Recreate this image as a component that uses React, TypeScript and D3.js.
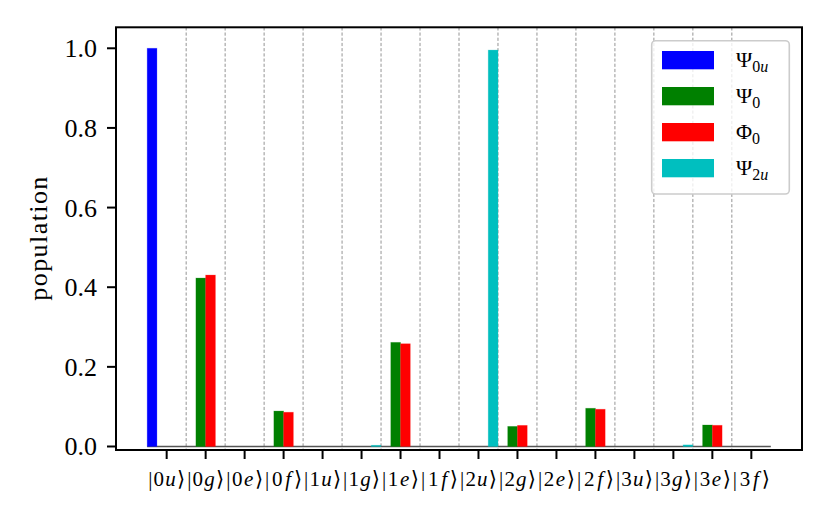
import React from "react";
import * as d3 from "d3";

const categories = ["0u", "0g", "0e", "0f", "1u", "1g", "1e", "1f", "2u", "2g", "2e", "2f", "3u", "3g", "3e", "3f"];
const psi0u = [1.0, 0, 0, 0, 0, 0, 0, 0, 0, 0, 0, 0, 0, 0, 0, 0];
const psi0 = [0, 0.423, 0, 0.089, 0, 0, 0.2615, 0, 0, 0.0505, 0, 0.096, 0, 0, 0.054, 0];
const phi0 = [0, 0.4305, 0, 0.086, 0, 0, 0.258, 0, 0, 0.053, 0, 0.0935, 0, 0, 0.0532, 0];
const psi2u = [0, 0, 0, 0, 0, 0.003, 0, 0, 0.9955, 0, 0, 0, 0, 0.004, 0, 0];
const yTicks = [0, 0.2, 0.4, 0.6, 0.8, 1.0];

const seriesList = [
  { sym: "Ψ", sub: "0u", values: psi0u, color: "#0000ff" },
  { sym: "Ψ", sub: "0", values: psi0, color: "#008000" },
  { sym: "Φ", sub: "0", values: phi0, color: "#ff0000" },
  { sym: "Ψ", sub: "2u", values: psi2u, color: "#00bfbf" },
];

const W = 830;
const H = 519;
const L = 116, R = 802, T = 27.3, B = 450;
const FONT = "'Liberation Serif', 'DejaVu Serif', serif";
const barW = 0.25;

export default function App() {
  const x = d3.scaleLinear().domain([-1.3, categories.length - 1 + 1.3]).range([L, R]);
  const y = d3.scaleLinear().domain([-0.0088, 1.0527]).range([B, T]);
  const n = seriesList.length;
  const first = x(-barW * n / 2);
  const last = x(categories.length - 1 + barW * n / 2);

  return (
    <svg width={W} height={H} style={{ position: "absolute", left: 0, top: 0, background: "#fff" }} fontFamily={FONT}>
      <rect x={0} y={0} width={W} height={H} fill="#fff" />
      {categories.slice(0, -1).map((c, i) => (
        <line key={"sep" + c} x1={x(i + 0.5)} x2={x(i + 0.5)} y1={T} y2={B} stroke="#888" strokeWidth={0.9} strokeDasharray="3.2,2" />
      ))}
      <line x1={first} x2={last} y1={y(0)} y2={y(0)} stroke="#555" strokeWidth={1.4} />
      {seriesList.map((s, si) =>
        s.values.map((v, i) => {
          if (v <= 0) return null;
          const x0 = x(i + (si - n / 2) * barW);
          const x1 = x(i + (si - n / 2 + 1) * barW);
          return (
            <rect key={s.sub + s.sym + i} x={x0} width={x1 - x0} y={y(v)} height={y(0) - y(v)} fill={s.color} stroke={s.color} strokeOpacity={0.3} strokeWidth={0.8} />
          );
        })
      )}
      <g>
        <rect x={651.7} y={40.7} width={137.6} height={153.3} rx={4} fill="#fff" fillOpacity={0.8} stroke="#cccccc" strokeWidth={1.6} />
        {seriesList.map((s, i) => (
          <g key={"leg" + i} transform={`translate(0, ${i * 36})`}>
            <rect x={662} y={51} width={52} height={18.3} fill={s.color} />
            <text x={736} y={66.7} fontSize={22} fill="#000">
              {s.sym}
              <tspan fontSize={16} dy={5.5}>
                {s.sub.split("").map((ch, k) => (
                  <tspan key={k} fontStyle={/[a-z]/.test(ch) ? "italic" : "normal"}>{ch}</tspan>
                ))}
              </tspan>
            </text>
          </g>
        ))}
      </g>
      <rect x={L} y={T} width={R - L} height={B - T} fill="none" stroke="#000" strokeWidth={2} />
      {yTicks.map((t) => (
        <g key={"yt" + t}>
          <line x1={L - 9} x2={L} y1={y(t)} y2={y(t)} stroke="#000" strokeWidth={2} />
          <text x={97} y={y(t) + 9} textAnchor="end" fontSize={26} fill="#000">{t.toFixed(1)}</text>
        </g>
      ))}
      {categories.map((c, i) => (
        <g key={"xt" + c}>
          <line x1={x(i)} x2={x(i)} y1={B} y2={B + 9} stroke="#000" strokeWidth={2} />
          <text x={x(i)} y={486} textAnchor="middle" fontSize={21} fill="#000" textLength={37} lengthAdjust="spacing">
            |{c[0]}<tspan fontStyle="italic">{c[1]}</tspan>⟩
          </text>
        </g>
      ))}
      <text transform={`translate(46.5, ${(T + B) / 2}) rotate(-90)`} textAnchor="middle" fontSize={26} fill="#000" textLength={124} lengthAdjust="spacing">population</text>
    </svg>
  );
}
